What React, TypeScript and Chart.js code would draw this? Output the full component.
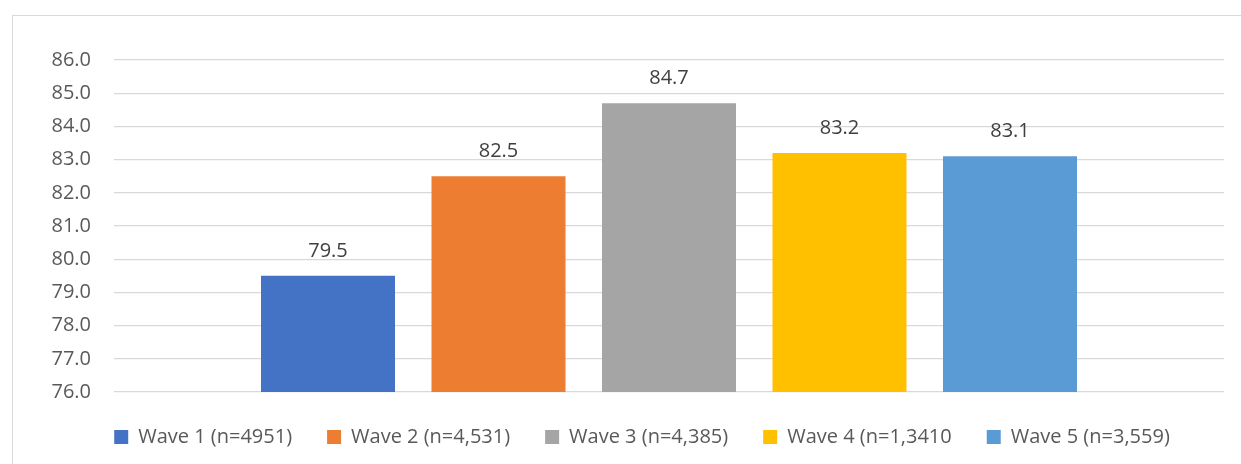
import React, { useEffect, useRef } from "react";
import { Chart, registerables } from "chart.js";

Chart.register(...registerables);

const categories = [""];
const seriesNames = [
  "Wave 1 (n=4951)",
  "Wave 2 (n=4,531)",
  "Wave 3 (n=4,385)",
  "Wave 4 (n=1,3410",
  "Wave 5 (n=3,559)",
];
const seriesValues = [79.5, 82.5, 84.7, 83.2, 83.1];
const seriesColors = ["#4472C4", "#ED7D31", "#A5A5A5", "#FFC000", "#5B9BD5"];
const yMin = 76;
const yMax = 86;

const FONT = "'Open Sans', 'Liberation Sans', sans-serif";

// Writes each bar's value above it
const valueLabels = {
  id: "valueLabels",
  afterDatasetsDraw(chart: any) {
    const { ctx } = chart;
    ctx.save();
    ctx.font = `20px ${FONT}`;
    ctx.fillStyle = "#404040";
    ctx.textAlign = "center";
    ctx.textBaseline = "middle";
    chart.data.datasets.forEach((ds: any, i: number) => {
      const meta = chart.getDatasetMeta(i);
      meta.data.forEach((bar: any, j: number) => {
        const v = ds.data[j];
        ctx.fillText(v.toFixed(1), bar.x, bar.y - 25);
      });
    });
    ctx.restore();
  },
};

// Nudges the legend row to the right so it sits under the plot area
const legendShift = {
  id: "legendShift",
  afterLayout(chart: any) {
    if (chart.legend) {
      chart.legend.left += 30;
      chart.legend.right += 30;
    }
  },
};

export default function App() {
  const ref = useRef<HTMLCanvasElement>(null);

  useEffect(() => {
    if (!ref.current) return;
    const chart = new Chart(ref.current, {
      type: "bar",
      data: {
        labels: categories,
        datasets: seriesNames.map((name, i) => ({
          label: name,
          data: [seriesValues[i]],
          backgroundColor: seriesColors[i],
          borderWidth: 0,
          categoryPercentage: 0.768,
          barPercentage: 0.786,
        })),
      },
      options: {
        responsive: false,
        animation: false,
        layout: { padding: { left: 0, right: 17, top: 60, bottom: 7 } },
        scales: {
          x: { display: false },
          y: {
            min: yMin,
            max: yMax,
            afterFit(scale: any) {
              scale.width = 114;
            },
            ticks: {
              stepSize: 1,
              padding: 23,
              color: "#595959",
              font: { family: FONT, size: 20 },
              callback: (v: any) => Number(v).toFixed(1),
            },
            grid: { color: "#D9D9D9", lineWidth: 1.3, drawTicks: false },
            border: { display: false },
          },
        },
        plugins: {
          legend: {
            position: "bottom",
            labels: {
              boxWidth: 14,
              boxHeight: 14,
              padding: 35,
              color: "#595959",
              font: { family: FONT, size: 20 },
            },
          },
          tooltip: { enabled: false },
        },
      },
      plugins: [valueLabels, legendShift],
    });
    return () => chart.destroy();
  }, []);

  return (
    <div style={{ position: "fixed", left: 0, top: 0, width: 1241, height: 464, background: "#fff", overflow: "hidden" }}>
      <div
        style={{
          position: "absolute",
          left: 12,
          top: 15,
          width: 1260,
          height: 480,
          border: "1px solid #D9D9D9",
          boxSizing: "border-box",
        }}
      />
      <canvas ref={ref} width={1241} height={464} style={{ position: "absolute", left: 0, top: 0 }} />
    </div>
  );
}
